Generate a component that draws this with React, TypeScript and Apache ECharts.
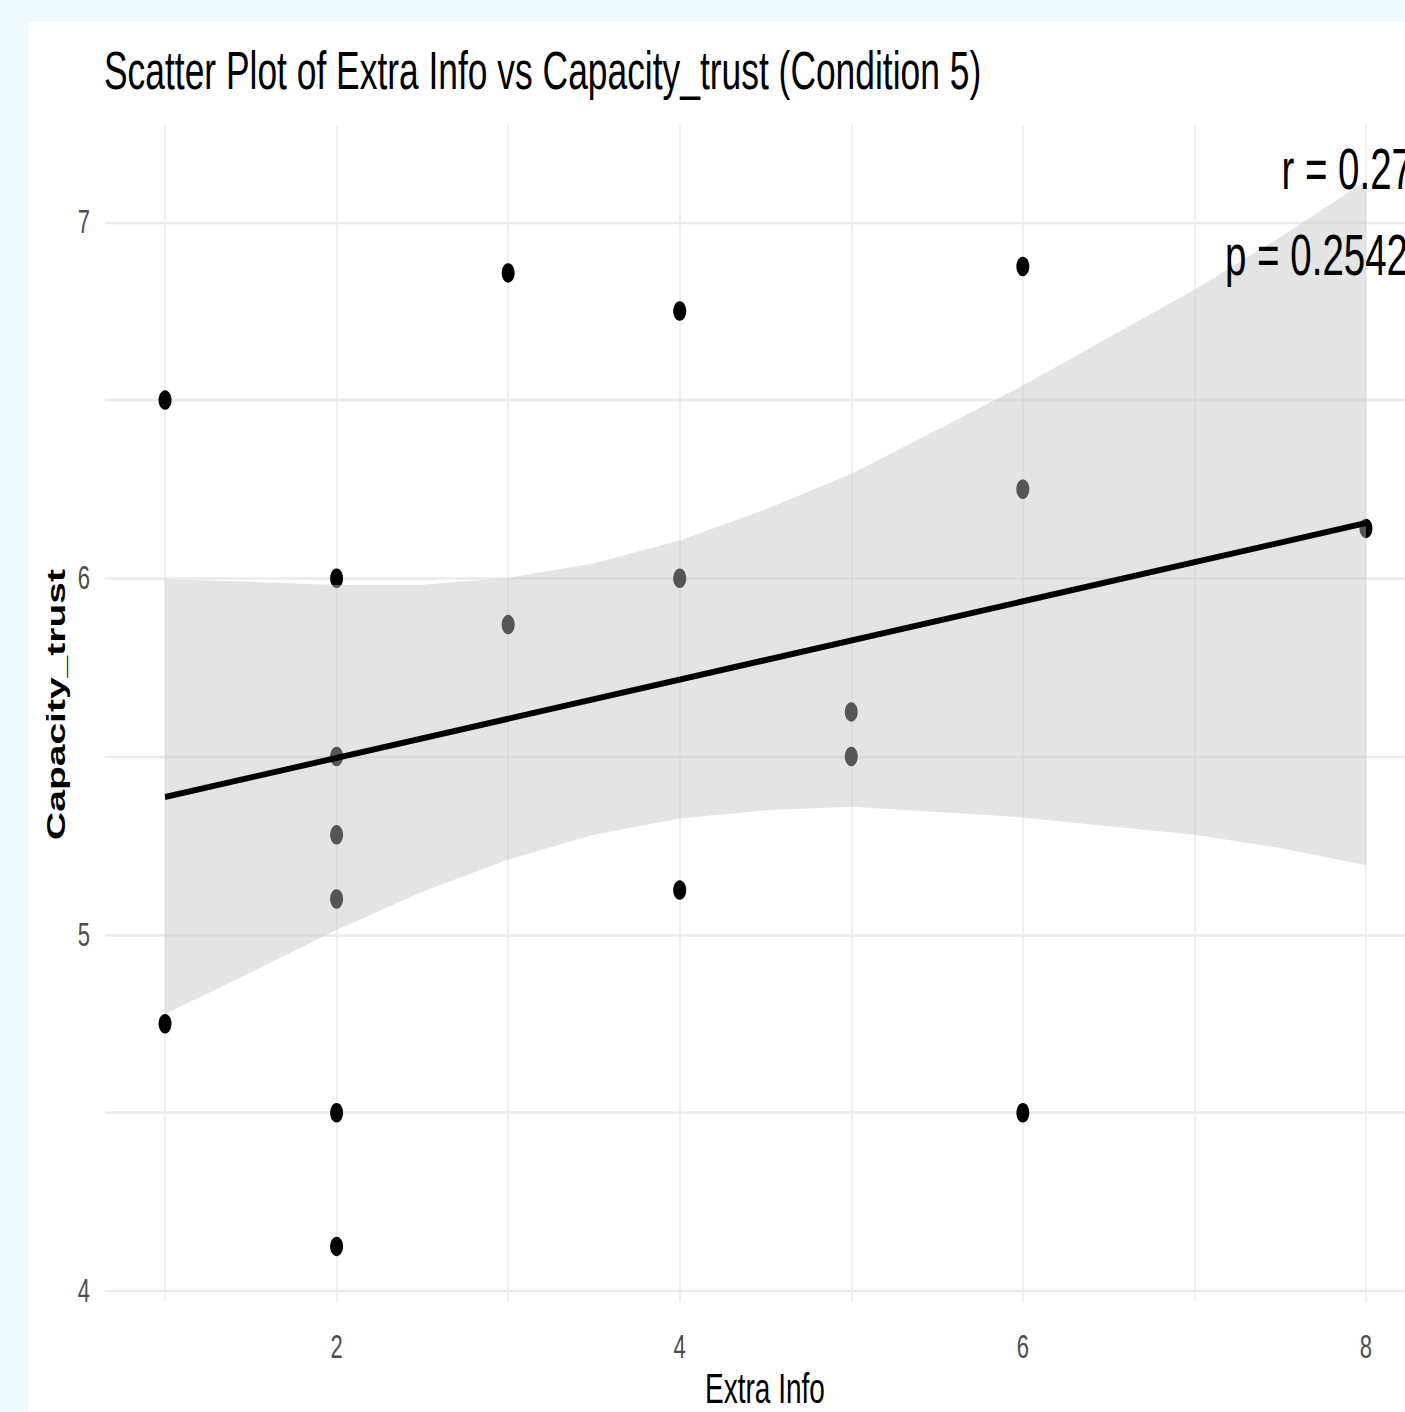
import React, { useEffect, useRef } from "react";
import * as echarts from "echarts";

// Data
const extraInfo = [1, 1, 2, 2, 2, 2, 2, 2, 3, 3, 4, 4, 4, 5, 5, 6, 6, 6, 8];
const capacityTrust = [6.5, 4.75, 6.0, 5.5, 5.28, 5.1, 4.5, 4.125, 6.857, 5.87, 6.75, 6.0, 5.125, 5.625, 5.5, 6.875, 6.25, 4.5, 6.14];

// Fitted regression line (end points) and its confidence band
const fitX = [1, 8];
const fitY = [5.386, 6.155];
const bandX = [1, 1.5, 2, 2.5, 3, 3.5, 4, 4.5, 5, 5.5, 6, 6.5, 7, 7.5, 8];
const bandUpper = [5.997, 5.99, 5.981, 5.982, 6.001, 6.042, 6.106, 6.193, 6.293, 6.416, 6.541, 6.676, 6.81, 6.957, 7.115];
const bandLower = [4.777, 4.894, 5.013, 5.12, 5.211, 5.28, 5.326, 5.349, 5.359, 5.344, 5.329, 5.304, 5.28, 5.243, 5.195];

// Axis ticks / grid
const xTickLabels = [2, 4, 6, 8];
const yTickLabels = [4, 5, 6, 7];
const xGridLines = [1, 2, 3, 4, 5, 6, 7, 8];
const yGridLines = [4, 4.5, 5, 5.5, 6, 6.5, 7];

const titleText = "Scatter Plot of Extra Info vs Capacity_trust (Condition 5)";
const xName = "Extra Info";
const yName = "Capacity_trust";
const rText = "r = 0.27";
const pText = "p = 0.2542";

const FONT = "'Liberation Sans', Arial, sans-serif";

export default function App() {
  const ref = useRef<HTMLDivElement>(null);

  useEffect(() => {
    if (!ref.current) return;
    const chart = echarts.init(ref.current, null, { renderer: "svg" });
    const points = extraInfo.map((x, i) => [x, capacityTrust[i]]);
    const fit = fitX.map((x, i) => [x, fitY[i]]);

    const option: any = {
      animation: false,
      backgroundColor: "#ffffff",
      title: {
        text: titleText,
        left: 76,
        top: 15,
        padding: 0,
        textStyle: { fontFamily: FONT, fontSize: 35.4, fontWeight: "normal", color: "#000000" },
      },
      grid: { left: 77, top: 68.67, width: 1321, height: 784.67, containLabel: false },
      xAxis: {
        type: "value",
        min: 0.65,
        max: 8.35,
        axisLine: { show: false },
        axisTick: { show: false },
        splitLine: { show: false },
        axisLabel: {
          customValues: xTickLabels,
          margin: 18.7,
          fontFamily: FONT,
          fontSize: 22,
          color: "#4d4d4d",
        },
      },
      yAxis: {
        type: "value",
        min: 3.969,
        max: 7.272,
        axisLine: { show: false },
        axisTick: { show: false },
        splitLine: { show: false },
        axisLabel: {
          customValues: yTickLabels,
          margin: 15,
          fontFamily: FONT,
          fontSize: 22,
          color: "#4d4d4d",
        },
      },
      graphic: [
        {
          type: "text",
          x: 28,
          y: 455,
          rotation: Math.PI / 2,
          silent: true,
          style: {
            text: yName,
            fontFamily: FONT,
            fontSize: 26,
            fontWeight: "bold",
            fill: "#000000",
            align: "center",
            verticalAlign: "middle",
          },
        },
        {
          type: "text",
          x: 737,
          y: 911,
          silent: true,
          style: {
            text: xName,
            fontFamily: FONT,
            fontSize: 28,
            fill: "#000000",
            align: "center",
            verticalAlign: "middle",
          },
        },
        {
          type: "text",
          x: 1385,
          y: 98,
          silent: true,
          z: 100,
          style: {
            text: rText,
            fontFamily: FONT,
            fontSize: 38.5,
            fill: "#000000",
            align: "right",
            verticalAlign: "middle",
          },
        },
        {
          type: "text",
          x: 1380,
          y: 155.3,
          silent: true,
          z: 100,
          style: {
            text: pText,
            fontFamily: FONT,
            fontSize: 38.5,
            fill: "#000000",
            align: "right",
            verticalAlign: "middle",
          },
        },
      ],
      series: [
        {
          type: "scatter",
          z: 2,
          data: points,
          symbol: "circle",
          symbolSize: 13,
          itemStyle: { color: "#000000", opacity: 1 },
          silent: true,
          markLine: {
            z: 0,
            zlevel: 0,
            silent: true,
            symbol: ["none", "none"],
            label: { show: false },
            lineStyle: { color: "#ebebeb", width: 1.6, type: "solid" },
            data: [
              ...yGridLines.map((v) => ({ yAxis: v })),
              ...xGridLines.map((v) => ({ xAxis: v })),
            ],
          },
        },
        {
          type: "custom",
          z: 3,
          silent: true,
          data: [[bandX[0], bandUpper[0]]],
          encode: { x: 0, y: 1 },
          renderItem: (params: any, api: any) => {
            const pts: number[][] = [];
            for (let i = 0; i < bandX.length; i++) pts.push(api.coord([bandX[i], bandUpper[i]]));
            for (let i = bandX.length - 1; i >= 0; i--) pts.push(api.coord([bandX[i], bandLower[i]]));
            return {
              type: "polygon",
              shape: { points: pts },
              style: { fill: "rgba(193,193,193,0.44)", stroke: "none" },
            };
          },
        },
        {
          type: "line",
          z: 4,
          data: fit,
          showSymbol: false,
          silent: true,
          lineStyle: { color: "#000000", width: 4 },
        },
      ],
    };
    chart.setOption(option);
    return () => chart.dispose();
  }, []);

  return (
    <div
      style={{
        position: "fixed",
        left: 0,
        top: 0,
        width: 1405,
        height: 1412,
        overflow: "hidden",
        background: "#f0f9fd",
      }}
    >
      <div
        ref={ref}
        style={{
          position: "absolute",
          left: 28,
          top: 22,
          width: 1440,
          height: 927,
          transform: "scaleY(1.5)",
          transformOrigin: "0 0",
          background: "#ffffff",
        }}
      />
    </div>
  );
}
